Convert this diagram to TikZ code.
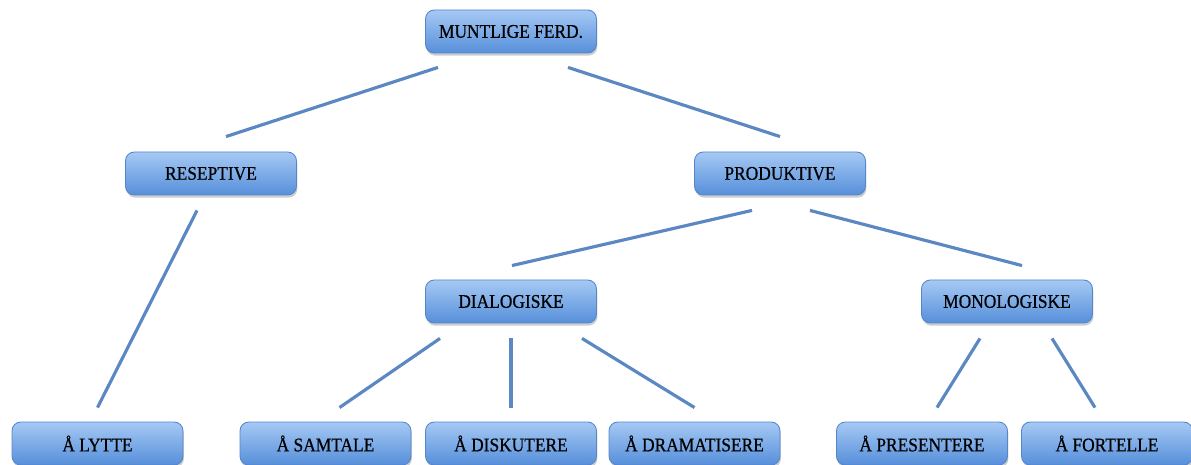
\documentclass[tikz,border=0pt]{standalone}
\usepackage{fontspec}
\setmainfont{Liberation Serif}[FakeStretch=0.9, FakeBold=0.6]
\usetikzlibrary{shadows}
\definecolor{boxtop}{HTML}{A6C9F4}
\definecolor{boxbot}{HTML}{568FDA}
\definecolor{boxedge}{HTML}{5586CB}
\definecolor{linkblue}{HTML}{5B87C2}
\begin{document}
\begin{tikzpicture}[
    x=0.02cm, y=-0.02cm,
    ferd/.style={rectangle, rounded corners=5pt, draw=boxedge, line width=0.5pt,
        top color=boxtop, bottom color=boxbot, minimum width=3.42cm, minimum height=0.86cm,
        font=\fontsize{11}{13}\selectfont, drop shadow={shadow xshift=0.5pt, shadow yshift=-1.5pt, opacity=0.4}},
    link/.style={line width=1.8pt, linkblue}
]
    \useasboundingbox (0,0) rectangle (1191,465);

    % Top levels
    \node[ferd] (muntlige) at (511,31.5) {MUNTLIGE FERD.};
    \node[ferd] (reseptive) at (211,173.5) {RESEPTIVE};
    \node[ferd] (produktive) at (780,173.5) {PRODUKTIVE};
    \node[ferd] (dialogiske) at (511,301.5) {DIALOGISKE};
    \node[ferd] (monologiske) at (1007,301.5) {MONOLOGISKE};

    % Bottom row
    \node[ferd] (lytte) at (97.5,443.5) {Å LYTTE};
    \node[ferd] (samtale) at (325.5,443.5) {Å SAMTALE};
    \node[ferd] (diskutere) at (511,443.5) {Å DISKUTERE};
    \node[ferd] (dramatisere) at (694.5,443.5) {Å DRAMATISERE};
    \node[ferd] (presentere) at (922,443.5) {Å PRESENTERE};
    \node[ferd] (fortelle) at (1107,443.5) {Å FORTELLE};

    % Connectors
    \draw[link] ([shift={(-73,14)}]muntlige.south) -- ([shift={(15,-15)}]reseptive.north);
    \draw[link] ([shift={(57,14)}]muntlige.south) -- ([shift={(0,-15)}]produktive.north);
    \draw[link] ([shift={(-14,15)}]reseptive.south) -- ([shift={(0,-14)}]lytte.north);
    \draw[link] ([shift={(-28,15)}]produktive.south) -- ([shift={(1,-14)}]dialogiske.north);
    \draw[link] ([shift={(30,15)}]produktive.south) -- ([shift={(15,-14)}]monologiske.north);
    \draw[link] ([shift={(-71,15)}]dialogiske.south) -- ([shift={(14,-14)}]samtale.north);
    \draw[link] ([shift={(0,15)}]dialogiske.south) -- ([shift={(0,-14)}]diskutere.north);
    \draw[link] ([shift={(71,15)}]dialogiske.south) -- ([shift={(0,-14)}]dramatisere.north);
    \draw[link] ([shift={(-27,15)}]monologiske.south) -- ([shift={(15,-14)}]presentere.north);
    \draw[link] ([shift={(45,15)}]monologiske.south) -- ([shift={(-12,-14)}]fortelle.north);
\end{tikzpicture}
\end{document}
